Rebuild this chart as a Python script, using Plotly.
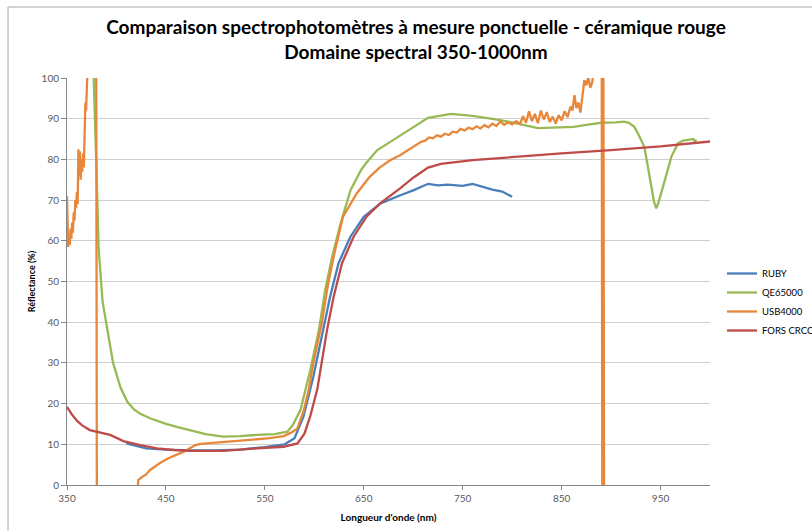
import plotly.graph_objects as go

# --- RUBY ---
ruby_nm = [410, 420, 430, 450, 475, 500, 525, 550, 570, 580, 589, 599, 609, 616, 624.5,
           636.5, 650, 667, 687, 700, 715, 725, 735, 750, 760, 770, 780, 790, 800]
ruby_r = [10.2, 9.6, 9.0, 8.7, 8.5, 8.5, 8.7, 9.3, 10.0, 11.5, 16.8, 26.6, 38.0, 46.3, 54.5,
          61.0, 65.9, 69.2, 71.2, 72.4, 74.0, 73.6, 73.8, 73.5, 74.0, 73.3, 72.6, 72.1, 70.8]

# --- QE65000 ---
qe_nm = [375, 377, 380, 382, 386, 389.5, 396.6, 404, 410.8, 418, 424, 434, 450, 462, 474.6, 490,
         508, 525, 542, 560, 572.6, 578, 586, 596, 604.6, 611, 618, 626.6, 636.7, 647, 652,
         663.7, 680, 700, 715, 738, 760, 781.6, 802, 826, 850, 862, 875, 890, 905, 913, 918,
         923.5, 928, 933.6, 937, 940.7, 943.5, 945.7, 948, 952.5, 957, 961, 967.8, 973, 978,
         983, 985, 986]
qe_r = [106, 100, 76, 58, 45, 40, 30, 24, 20.5, 18.5, 17.5, 16.4, 15.0, 14.2, 13.5, 12.5,
        11.9, 12.0, 12.3, 12.5, 13.1, 14.6, 18.4, 28.3, 38.0, 47.9, 56.0, 64.3, 72.5, 77.3, 79.0,
        82.3, 84.8, 88.0, 90.2, 91.2, 90.7, 89.9, 89.0, 87.7, 87.8, 88.0, 88.5, 89.0, 89.1, 89.3, 89.0,
        88.0, 86.0, 83.1, 78.5, 73.3, 69.5, 68.0, 69.5, 73.3, 77.5, 80.7, 84.0, 84.6, 84.8,
        85.0, 84.3, 84.9]

# --- USB4000 ---
usb_nm = [350, 350.6, 351.2, 352, 352.8, 353.6, 354.4, 355.2, 356, 356.8, 357.6, 358.4, 359.2,
          360, 360.8, 361.5, 362.2, 363, 363.8, 364.6, 365.4, 366.2, 367, 367.8, 368.6, 369.3,
          370, 371, 375, 379.5, 380.3, 400, 421,
          422, 426, 430, 434, 440, 444, 452, 461, 468, 474.6, 480, 485, 495, 508, 520, 530, 542,
          555, 569, 576, 582.7, 589, 594, 599, 607.5, 614, 621, 629, 643, 656, 666, 676.6, 686.7,
          700, 704, 708, 712, 716, 720, 724, 728, 732, 736, 740, 744, 748, 752, 756, 760, 764,
          768, 772, 776, 780, 784, 788, 792, 796, 800, 804, 808, 811, 814, 817, 820, 823, 826,
          829, 832, 835, 838, 841, 844, 847, 850, 853, 856, 859, 861, 863, 865, 867, 869, 871,
          873, 875, 877, 879, 881, 883, 886, 890.5, 891.2, 892.2, 893, 896]
usb_r = [71, 62, 58.5, 61, 59, 63, 60.5, 64.5, 62, 67, 65, 70, 68,
         72, 69, 82.5, 76, 82, 75, 80, 77, 81.5, 78, 86, 94, 92,
         100.5, 104, 115, 112, -20, -25, -3,
         1.2, 2.0, 2.6, 3.7, 4.8, 5.4, 6.5, 7.4, 8.2, 9.1, 9.8, 10.1, 10.3, 10.4, 10.8, 11.0, 11.2,
         11.5, 12.0, 12.8, 13.8, 18.0, 23.0, 29.9, 39.7, 49.5, 57.7, 65.9, 71.7, 75.7, 78.0, 79.8, 81.0,
         83.0, 83.6, 84.3, 84.6, 85.4, 85.2, 85.9, 85.6, 86.3, 86.0, 86.8, 86.6, 87.5, 87.1, 87.8, 87.4, 88.1,
         87.6, 88.4, 87.9, 88.8, 88.2, 89.3, 88.5, 89.1, 88.6, 89.4, 88.7, 90.6, 89.0, 91.8, 89.4, 91.2, 88.9,
         92.0, 89.8, 91.6, 89.2, 90.5, 88.8, 90.9, 89.6, 91.8, 90.4, 93.0, 92.0, 95.8, 92.6, 94.0, 91.5, 95.0,
         99.5, 98.2, 100.2, 97.6, 99.0, 104, 106, 112, -15, 112, -15, -20]

# --- FORS CRCC ---
fors_nm = [350, 355, 360, 365, 373, 380, 393.6, 407, 424, 441, 458, 475, 508, 542, 569, 583,
           590, 596, 603, 612.8, 619.6, 628, 639.7, 653, 666.5, 686.7, 700, 715, 728, 760,
           800, 850, 900, 950, 1000]
fors_r = [19.2, 17.3, 15.8, 14.7, 13.5, 13.1, 12.3, 10.8, 9.8, 9.0, 8.6, 8.4, 8.4, 9.0, 9.4, 10.2,
          12.6, 17.0, 23.5, 38.0, 46.3, 54.5, 61.0, 66.0, 69.2, 72.9, 75.5, 78.0, 78.9, 79.8,
          80.6, 81.5, 82.3, 83.2, 84.4]

series = [
    ("RUBY", ruby_nm, ruby_r, "#4A7EBB"),
    ("QE65000", qe_nm, qe_r, "#98B954"),
    ("USB4000", usb_nm, usb_r, "#E8873A"),
    ("FORS CRCC", fors_nm, fors_r, "#BE4B48"),
]

x_ticks = [350, 450, 550, 650, 750, 850, 950]

FONT = "Lato"
W, H = 812, 531
L, R, T, B = 67, 102, 78, 46

fig = go.Figure()
for name, xs, ys, col in series:
    fig.add_trace(go.Scatter(x=xs, y=ys, mode="lines", name=name,
                             line=dict(color=col, width=2.3)))

pw = W - L - R
ph = H - T - B

fig.update_layout(
    width=W, height=H,
    margin=dict(l=L, r=R, t=T, b=B, autoexpand=False),
    paper_bgcolor="white", plot_bgcolor="white",
    font=dict(family=FONT, color="#404040"),
    title=dict(
        text="<b>Comparaison spectrophotomètres à mesure ponctuelle - céramique rouge<br>"
             "Domaine spectral 350-1000nm</b>",
        x=416 / W, xanchor="center", xref="container",
        y=1 - 34 / H, yanchor="top", yref="container",
        font=dict(family=FONT, size=19, color="#000000"),
    ),
    xaxis=dict(
        range=[350, 1000], tickvals=x_ticks,
        showgrid=False, zeroline=False,
        showline=True, linecolor="#868686", linewidth=1,
        ticks="outside", ticklen=4, tickcolor="#868686",
        tickfont=dict(size=10, color="#595959"),
        title=dict(text="<b>Longueur d'onde (nm)</b>", font=dict(size=10, color="#000000"),
                   standoff=10),
    ),
    yaxis=dict(
        range=[0, 100], dtick=10,
        showgrid=True, gridcolor="#CFCFCF", gridwidth=1, zeroline=False,
        showline=True, linecolor="#868686", linewidth=1,
        ticks="outside", ticklen=5, tickcolor="#868686",
        tickfont=dict(size=10, color="#595959"),
        title=dict(text="<b>Réflectance (%)</b>", font=dict(size=9, color="#000000"),
                   standoff=4),
    ),
    legend=dict(
        x=(722 - L) / pw, xanchor="left",
        y=(H - B - 259) / ph, yanchor="top",
        font=dict(size=9.5, color="#000000"),
        bgcolor="rgba(0,0,0,0)",
    ),
    showlegend=True,
)

# outer chart frame
fig.add_shape(type="rect", xref="paper", yref="paper",
              x0=(8 - L) / pw, x1=(W + 5 - L) / pw,
              y0=-(B + 5) / ph, y1=(H - B - 7) / ph,
              line=dict(color="#A6A6A6", width=1), fillcolor="rgba(0,0,0,0)", layer="below")

fig.write_html("out.html")
